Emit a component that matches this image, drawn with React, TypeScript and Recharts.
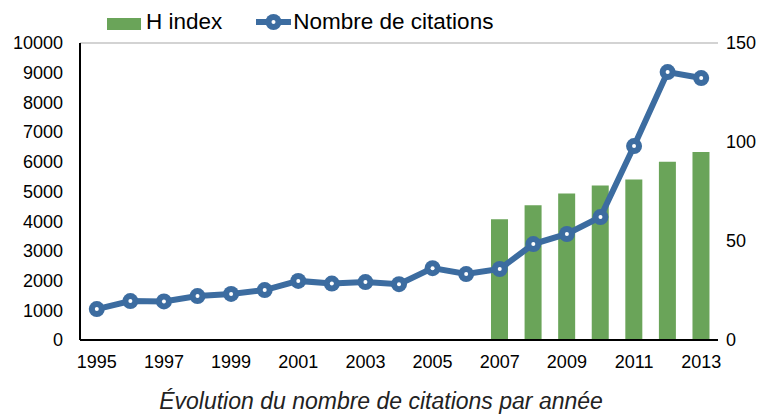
import React from "react";
import { ComposedChart, Bar, Line, XAxis, YAxis, CartesianGrid, Legend, Label } from "recharts";

const years = ["1995","1996","1997","1998","1999","2000","2001","2002","2003","2004","2005","2006","2007","2008","2009","2010","2011","2012","2013"];
const citations = [1040,1310,1300,1480,1550,1680,1990,1900,1950,1880,2420,2220,2390,3230,3570,4140,6530,9020,8820];
const hIndex = [null,null,null,null,null,null,null,null,null,null,null,null,61,68,74,78,81,90,95];
const leftTicks = [0,1000,2000,3000,4000,5000,6000,7000,8000,9000,10000];
const rightTicks = [0,50,100,150];

const BLUE = "#3C6CA0";
const GREEN = "#6AA459";
const FONT = "'Liberation Sans', Arial, sans-serif";

const data = years.map((y, i) => ({ year: y, citations: citations[i], h: hIndex[i] }));

const Dot = (props: any) => {
  const { cx, cy } = props;
  if (cx == null || cy == null) return null;
  return (
    <g>
      <circle cx={cx} cy={cy} r={8} fill={BLUE} />
      <circle cx={cx} cy={cy} r={2} fill="#fff" />
    </g>
  );
};

const LegendContent = () => (
  <div style={{ display: "flex", alignItems: "center", height: 24, fontFamily: FONT, fontSize: 22.5, color: "#000", paddingLeft: 107, whiteSpace: "nowrap" }}>
    <div style={{ width: 34, height: 12, background: GREEN, marginRight: 5, marginTop: 3 }} />
    <span style={{ marginRight: 34 }}>H index</span>
    <svg width={35} height={20} style={{ marginRight: 2 }}>
      <line x1={0} y1={10} x2={35} y2={10} stroke={BLUE} strokeWidth={6} />
      <circle cx={17.5} cy={10} r={8} fill={BLUE} />
      <circle cx={17.5} cy={10} r={2} fill="#fff" />
    </svg>
    <span>Nombre de citations</span>
  </div>
);

export default function App() {
  return (
    <div style={{ position: "absolute", left: 0, top: 0, background: "#fff" }}>
      <ComposedChart
        width={762}
        height={414}
        data={data}
        margin={{ top: 19, right: 0, bottom: 0, left: 0 }}
        barCategoryGap="24%"
      >
        <Legend
          verticalAlign="top"
          align="left"
          content={<LegendContent />}
          wrapperStyle={{ top: 10, left: 0, width: 762, height: 24 }}
        />
        <CartesianGrid vertical={false} stroke="#C4C4C4" strokeWidth={1.5} />
        <XAxis
          dataKey="year"
          interval={1}
          tickLine={false}
          axisLine={{ stroke: "#000", strokeWidth: 2 }}
          tick={{ fontFamily: FONT, fontSize: 18, fill: "#000" }}
          tickMargin={9}
          height={74}
        >
          <Label
            value="Évolution du nombre de citations par année"
            position="insideBottom"
            offset={5}
            dx={-18}
            style={{ fontFamily: FONT, fontSize: 23, fontStyle: "italic", fill: "#222" }}
          />
        </XAxis>
        <YAxis
          yAxisId="left"
          domain={[0, 10000]}
          ticks={leftTicks}
          interval={0}
          tickLine={false}
          axisLine={{ stroke: "#000", strokeWidth: 2 }}
          tick={{ fontFamily: FONT, fontSize: 18, fill: "#000" }}
          tickMargin={11}
          width={80}
        />
        <YAxis
          yAxisId="right"
          orientation="right"
          domain={[0, 150]}
          ticks={rightTicks}
          interval={0}
          tickLine={false}
          axisLine={false}
          tick={{ fontFamily: FONT, fontSize: 18, fill: "#000" }}
          tickMargin={2}
          width={44}
        />
        <Bar yAxisId="right" dataKey="h" name="H index" fill={GREEN} isAnimationActive={false} />
        <Line
          yAxisId="left"
          dataKey="citations"
          name="Nombre de citations"
          stroke={BLUE}
          strokeWidth={6}
          dot={<Dot />}
          activeDot={false}
          isAnimationActive={false}
        />
      </ComposedChart>
    </div>
  );
}
